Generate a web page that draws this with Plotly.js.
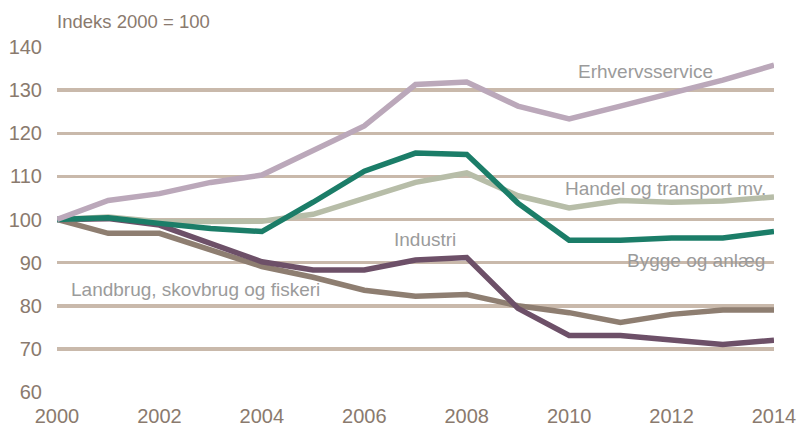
<!DOCTYPE html>
<html>
<head>
<meta charset="utf-8">
<script src="https://cdn.plot.ly/plotly-3.0.1.min.js"></script>
<style>html,body{margin:0;padding:0;background:#fff;}#chart{width:797px;height:428px;}</style>
</head>
<body>
<div id="chart"></div>
<script>
const years = [2000,2001,2002,2003,2004,2005,2006,2007,2008,2009,2010,2011,2012,2013,2014];
const erhvervsservice = [100,104.4,106.0,108.6,110.3,116.0,121.7,131.3,131.9,126.3,123.3,126.3,129.4,132.3,135.8];
const byggeAnlaeg = [100,100.4,99.1,97.9,97.2,104.0,111.2,115.4,115.1,103.8,95.2,95.2,95.7,95.7,97.2];
const handelTransport = [100,100.6,99.5,99.4,99.6,101.2,105.0,108.6,110.8,105.5,102.7,104.4,104.0,104.3,105.2];
const industri = [100,100.2,98.7,94.5,90.2,88.3,88.3,90.6,91.2,79.4,73.1,73.1,72.2,71.0,72.0];
const landbrug = [100,96.8,96.8,92.9,89.1,86.6,83.6,82.2,82.6,80.0,78.4,76.1,78.0,79.0,79.0];
const yTicks = [60,70,80,90,100,110,120,130,140];
const xTicks = [2000,2002,2004,2006,2008,2010,2012,2014];

const series = [
  {name:'Landbrug, skovbrug og fiskeri', y:landbrug, color:'#8e7e71'},
  {name:'Industri', y:industri, color:'#6d5068'},
  {name:'Handel og transport mv.', y:handelTransport, color:'#b7bda8'},
  {name:'Bygge og anlæg', y:byggeAnlaeg, color:'#1b7d68'},
  {name:'Erhvervsservice', y:erhvervsservice, color:'#bba8ba'}
];

const traces = series.map(s => ({
  x: years, y: s.y, name: s.name, type:'scatter', mode:'lines',
  line:{color:s.color, width:5.5, shape:'linear'},
  hoverinfo:'skip'
}));

const font = 'Liberation Sans Narrow, Liberation Sans, Arial Narrow, sans-serif';
const lblFont = {family:font, size:19, color:'#9b9b9b'};

const labels = [
  {text:'Erhvervsservice', x:2011.5, y:134.4},
  {text:'Handel og transport mv.', x:2011.88, y:107.3},
  {text:'Bygge og anlæg', x:2012.48, y:90.4},
  {text:'Industri', x:2007.19, y:95.4},
  {text:'Landbrug, skovbrug og fiskeri', x:2002.71, y:83.8}
];

const layout = {
  width:797, height:428,
  margin:{l:57, r:23, t:47, b:36, pad:0},
  paper_bgcolor:'#ffffff', plot_bgcolor:'#ffffff',
  showlegend:false,
  font:{family:font, color:'#8a7a6e', size:20},
  xaxis:{
    range:[2000,2014], tickvals:xTicks, ticktext:xTicks.map(String),
    showgrid:false, zeroline:false, showline:false, ticks:'',
    tickfont:{family:font, size:20, color:'#8a7a6e'},
    ticklabelstandoff:10
  },
  yaxis:{
    range:[60,140], tickvals:yTicks, ticktext:yTicks.map(String),
    showgrid:true, gridcolor:'#c9b9ab', gridwidth:3.5,
    zeroline:false, showline:false, ticks:'',
    tickfont:{family:font, size:20, color:'#8a7a6e'},
    ticklabelstandoff:14
  },
  annotations: labels.map(l => ({
    text:l.text, x:l.x, y:l.y, xref:'x', yref:'y', showarrow:false,
    font:lblFont, xanchor:'center', yanchor:'middle'
  })).concat([{
    text:'Indeks 2000 = 100', xref:'paper', yref:'paper', x:-0.003, y:1.0, yshift:26,
    xanchor:'left', yanchor:'middle', showarrow:false,
    font:{family:font, size:18.5, color:'#8a7a6e'}
  }])
};

Plotly.newPlot('chart', traces, layout, {staticPlot:true, displayModeBar:false});
</script>
</body>
</html>
